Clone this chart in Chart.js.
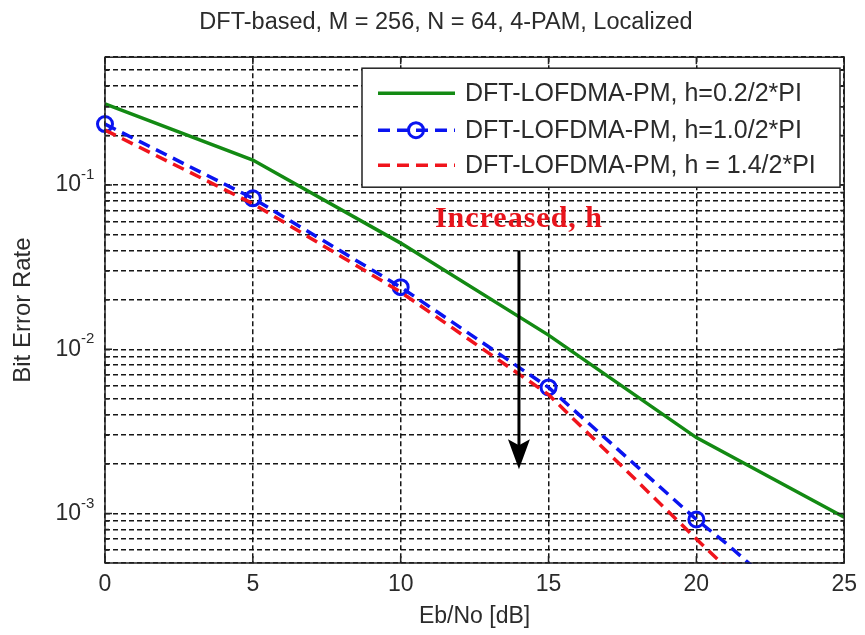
<!DOCTYPE html>
<html>
<head>
<meta charset="utf-8">
<script src="https://cdn.jsdelivr.net/npm/chart.js@4.4.1/dist/chart.umd.min.js"></script>
<style>
  html, body { margin: 0; padding: 0; background: #fff; }
</style>
</head>
<body>
<canvas id="berChart" width="865" height="635"></canvas>
<script>
// values
const ebNoGreen = [0, 5, 10, 15, 20, 25];
const berGreen = [0.312, 0.142, 0.0443, 0.0122, 0.0029, 0.00095];
const ebNoBlue = [0, 5, 10, 15, 20, 21, 22];
const berBlue = [0.235, 0.083, 0.0239, 0.00586, 0.00092, 0.00066, 0.00046];
const ebNoRed = [0, 5, 10, 15, 20, 21];
const berRed = [0.216, 0.077, 0.0223, 0.0053, 0.0007, 0.00047];
const seriesLabels = [
  'DFT-LOFDMA-PM, h=0.2/2*PI',
  'DFT-LOFDMA-PM, h=1.0/2*PI',
  'DFT-LOFDMA-PM, h = 1.4/2*PI'
];
const xTicks = [0, 5, 10, 15, 20, 25];
const yDecades = [-3, -2, -1];
const arrowNote = { x: 14, from: 0.040, to: 0.00186, text: 'Increased, h', textY: 0.062 };

const sans = 'Liberation Sans, Arial, sans-serif';
const textColor = '#2b2b2b';
const gridColor = 'rgba(10,10,10,0.95)';

const toPoints = (xs, ys) => xs.map((x, i) => ({ x: x, y: ys[i] }));

function logTicks(min, max) {
  const out = [];
  for (let e = -4; e <= 0; e++) {
    for (let m = 1; m <= 9; m++) {
      const v = Number((m * Math.pow(10, e)).toPrecision(3));
      if (v >= min * 0.999 && v <= max * 1.001) out.push({ value: v });
    }
  }
  return out;
}

const matlabBits = {
  id: 'matlabBits',
  afterDatasetsDraw(chart) {
    const { ctx, chartArea: a, scales: { x, y } } = chart;
    ctx.save();
    ctx.strokeStyle = '#222';
    ctx.lineWidth = 1.5;
    ctx.beginPath();
    x.ticks.forEach(t => {
      const px = x.getPixelForValue(t.value);
      ctx.moveTo(px, a.bottom); ctx.lineTo(px, a.bottom - 7);
      ctx.moveTo(px, a.top); ctx.lineTo(px, a.top + 7);
    });
    y.ticks.forEach(t => {
      const py = y.getPixelForValue(t.value);
      const lg = Math.log10(t.value);
      const len = Math.abs(lg - Math.round(lg)) < 1e-6 ? 7 : 4;
      ctx.moveTo(a.left, py); ctx.lineTo(a.left + len, py);
      ctx.moveTo(a.right, py); ctx.lineTo(a.right - len, py);
    });
    ctx.stroke();
    ctx.strokeRect(a.left, a.top, a.right - a.left, a.bottom - a.top);

    // arrow + note
    const ax = x.getPixelForValue(arrowNote.x);
    const y0 = y.getPixelForValue(arrowNote.from);
    const y1 = y.getPixelForValue(arrowNote.to);
    ctx.strokeStyle = '#000';
    ctx.fillStyle = '#000';
    ctx.lineWidth = 3;
    ctx.beginPath();
    ctx.moveTo(ax, y0); ctx.lineTo(ax, y1 - 20);
    ctx.stroke();
    ctx.beginPath();
    ctx.moveTo(ax, y1);
    ctx.lineTo(ax - 11, y1 - 30);
    ctx.lineTo(ax, y1 - 24);
    ctx.lineTo(ax + 11, y1 - 30);
    ctx.closePath();
    ctx.fill();

    ctx.fillStyle = '#e8141c';
    ctx.font = 'bold 30px Liberation Serif, Times New Roman, serif';
    ctx.letterSpacing = '1px';
    ctx.textAlign = 'center';
    ctx.textBaseline = 'middle';
    ctx.fillText(arrowNote.text, ax, y.getPixelForValue(arrowNote.textY));
    ctx.letterSpacing = '0px';
    ctx.restore();
  },
  afterDraw(chart) {
    const { ctx, chartArea: a, scales: { y } } = chart;
    ctx.save();
    // y decade labels with superscripts
    ctx.fillStyle = textColor;
    yDecades.forEach(e => {
      const py = y.getPixelForValue(Math.pow(10, e));
      ctx.font = '23px ' + sans;
      ctx.textAlign = 'right';
      ctx.textBaseline = 'middle';
      ctx.fillText('10', 81, py);
      ctx.font = '15px ' + sans;
      ctx.textAlign = 'left';
      ctx.textBaseline = 'alphabetic';
      ctx.fillText(String(e), 81, py - 6);
    });

    // legend box
    const bx = a.left + 257, by = a.top + 11, bw = 478, bh = 119;
    ctx.fillStyle = '#fff';
    ctx.fillRect(bx, by, bw, bh);
    ctx.strokeStyle = '#222';
    ctx.lineWidth = 1.5;
    ctx.strokeRect(bx, by, bw, bh);
    const rows = [25, 62, 97];
    chart.data.datasets.forEach((ds, i) => {
      const ry = by + rows[i];
      ctx.strokeStyle = ds.borderColor;
      ctx.lineWidth = ds.borderWidth;
      ctx.setLineDash(ds.borderDash || []);
      ctx.beginPath();
      ctx.moveTo(bx + 16, ry); ctx.lineTo(bx + 93, ry);
      ctx.stroke();
      ctx.setLineDash([]);
      if (ds.legendMarker) {
        ctx.lineWidth = 3;
        ctx.beginPath();
        ctx.arc(bx + 54, ry, 7.5, 0, Math.PI * 2);
        ctx.stroke();
      }
      ctx.fillStyle = textColor;
      ctx.font = '25px ' + sans;
      ctx.textAlign = 'left';
      ctx.textBaseline = 'middle';
      ctx.fillText(ds.label, bx + 103, ry + 1);
    });
    ctx.restore();
  }
};

new Chart(document.getElementById('berChart'), {
  type: 'line',
  data: {
    datasets: [
      {
        label: seriesLabels[0],
        data: toPoints(ebNoGreen, berGreen),
        borderColor: '#138a13',
        borderWidth: 3.5,
        pointRadius: 0,
        tension: 0,
        order: 2,
        clip: { left: 2, top: 2, right: 2, bottom: 2 }
      },
      {
        label: seriesLabels[1],
        data: toPoints(ebNoBlue, berBlue),
        borderColor: '#0a14f0',
        borderWidth: 3.5,
        borderDash: [12, 7],
        pointRadius: c => (c.raw && c.raw.x % 5 === 0 ? 7.5 : 0),
        pointBorderWidth: 3,
        pointBorderColor: '#0a14f0',
        pointBackgroundColor: 'rgba(0,0,0,0)',
        legendMarker: true,
        tension: 0,
        order: 1,
        clip: { left: 12, top: 2, right: 2, bottom: 1 }
      },
      {
        label: seriesLabels[2],
        data: toPoints(ebNoRed, berRed),
        borderColor: '#f0141c',
        borderWidth: 3.5,
        borderDash: [12, 7],
        pointRadius: 0,
        tension: 0,
        order: 0,
        clip: { left: 2, top: 2, right: 2, bottom: 1 }
      }
    ]
  },
  options: {
    responsive: false,
    animation: false,
    devicePixelRatio: 1,
    layout: { padding: { left: 44, right: 17, top: 0, bottom: 0 } },
    plugins: {
      legend: { display: false },
      tooltip: { enabled: false },
      title: {
        display: true,
        text: 'DFT-based, M = 256, N = 64, 4-PAM, Localized',
        color: textColor,
        font: { family: sans, size: 23.5, weight: 'normal' },
        padding: { top: 8, bottom: 21 }
      }
    },
    scales: {
      x: {
        type: 'linear',
        min: 0,
        max: 25,
        afterBuildTicks: s => { s.ticks = xTicks.map(v => ({ value: v })); },
        afterFit: s => { s.height = 72; },
        ticks: { color: textColor, font: { family: sans, size: 23 }, padding: 8, maxRotation: 0 },
        grid: { color: gridColor, lineWidth: 1.5, drawTicks: false },
        border: { display: false, dash: [5, 3] },
        title: {
          display: true,
          text: 'Eb/No [dB]',
          color: textColor,
          font: { family: sans, size: 23 },
          padding: { top: 0, bottom: 5 }
        }
      },
      y: {
        type: 'logarithmic',
        min: 0.0005,
        max: 0.6,
        afterBuildTicks: s => { s.ticks = logTicks(s.min, s.max); },
        afterFit: s => { s.width = 61; },
        ticks: { display: false },
        grid: { color: gridColor, lineWidth: 1.5, drawTicks: false },
        border: { display: false, dash: [5, 3] },
        title: {
          display: true,
          text: 'Bit Error Rate',
          color: textColor,
          font: { family: sans, size: 24 },
          padding: { top: -35.4, bottom: 0 }
        }
      }
    }
  },
  plugins: [matlabBits]
});
</script>
</body>
</html>
